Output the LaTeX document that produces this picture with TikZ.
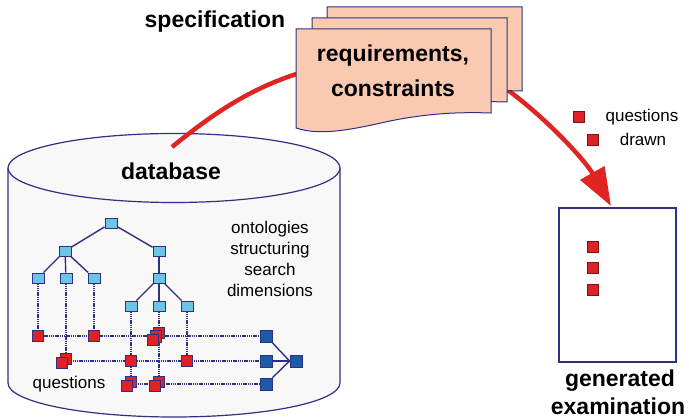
\documentclass[tikz,border=0pt]{standalone}
\usepackage{fontspec}
\setmainfont{Liberation Sans}
\usetikzlibrary{arrows.meta}
\pgfdeclarelayer{back}
\pgfdeclarelayer{mid}
\pgfsetlayers{back,mid,main}
\definecolor{navy}{HTML}{2E3182}
\definecolor{lblue}{HTML}{6CC5E4}
\definecolor{dblue}{HTML}{1B5BA8}
\definecolor{qred}{HTML}{DE2226}
\definecolor{qborder}{HTML}{7A1010}
\definecolor{docfill}{HTML}{F9C9B2}
\definecolor{cylfill}{HTML}{F8F8F8}
\definecolor{arrred}{HTML}{E02424}
\begin{document}
\begin{tikzpicture}[x=1pt,y=-1pt,
  onto/.style={draw=navy, fill=lblue, line width=0.9pt, minimum width=12pt, minimum height=10pt, inner sep=0pt},
  qbox/.style={draw=qborder, fill=qred, line width=0.8pt, minimum size=10.5pt, inner sep=0pt},
  dbq/.style={qbox, draw=navy, minimum size=11.5pt},
  dim/.style={draw=navy, fill=dblue, line width=0.9pt, minimum size=12pt, inner sep=0pt},
  treeline/.style={draw=navy, line width=1.4pt},
  dotline/.style={draw=navy, line width=2.2pt, dash pattern=on 1.4pt off 0.8pt},
  outline/.style={draw=navy, line width=1.2pt},
  docshape/.style={draw=navy, fill=docfill, line width=1pt},
  lbl/.style={font=\fontsize{17}{21}\selectfont, inner sep=0pt, align=center},
  head/.style={font=\bfseries\fontsize{23}{25}\selectfont, inner sep=0pt, align=center},
  redline/.style={draw=arrred, line width=4.5pt}
]
\useasboundingbox (0,0) rectangle (689,419);

% cylinder
\begin{pgfonlayer}{back}
\path[outline, fill=cylfill] (8,168) -- (8,383) arc[start angle=180, end angle=360, x radius=166, y radius=-34] -- (340,168);
\path[outline, fill=cylfill] (174,168) ellipse[x radius=166, y radius=34.5];
\end{pgfonlayer}

% tree nodes
\node[onto] (r) at (111,223) {};
\node[onto] (a1) at (65,251) {};
\node[onto] (a2) at (159,251) {};
\node[onto] (b1) at (38,278) {};
\node[onto] (b2) at (66,278) {};
\node[onto] (b3) at (94,278) {};
\node[onto] (b4) at (159,278) {};
\node[onto] (c1) at (131,306) {};
\node[onto] (c2) at (159,306) {};
\node[onto] (c3) at (187,306) {};

% question squares
\node[dbq] (q11) at (38,336) {};
\node[dbq] (q12) at (94,336) {};
\node[dbq] at (159,333) {};
\node[dbq] at (156,336.5) {};
\node[dbq] (q13) at (153,340) {};
\coordinate (s13) at (159,336);
\node[dbq] at (66,359) {};
\node[dbq] (q21) at (62,363) {};
\coordinate (s21) at (66,361);
\node[dbq] (q22) at (131,361) {};
\node[dbq] (q23) at (187,361) {};
\node[dbq] at (131,382) {};
\node[dbq] (q31) at (127,386) {};
\coordinate (s31) at (131,384);
\node[dbq] at (159,382) {};
\node[dbq] (q32) at (155,386) {};
\coordinate (s32) at (159,384);

% dimension squares
\node[dim] (d1) at (266,336) {};
\node[dim] (d2) at (266,361) {};
\node[dim] (d3) at (266,384) {};
\node[dim] (df) at (296,361) {};

\begin{pgfonlayer}{mid}
\draw[treeline] (r) -- (a1); \draw[treeline] (r) -- (a2);
\draw[treeline] (a1) -- (b1); \draw[treeline] (a1) -- (b2); \draw[treeline] (a1) -- (b3);
\draw[treeline] (a2) -- (b4);
\draw[treeline] (b4) -- (c1); \draw[treeline] (b4) -- (c2); \draw[treeline] (b4) -- (c3);
\draw[dotline] (b1) -- (q11);
\draw[dotline] (b2) -- (s21);
\draw[dotline] (b3) -- (q12);
\draw[dotline] (c1) -- (s31);
\draw[dotline] (c2) -- (s32);
\draw[dotline] (c3) -- (q23);
\draw[dotline] (q11) -- (d1);
\draw[dotline] (s21) -- (d2);
\draw[dotline] (s31) -- (d3);
\draw[treeline] (d1) -- (df.west); \draw[treeline] (d2) -- (df.west); \draw[treeline] (d3) -- (df.west);
\end{pgfonlayer}

% labels in database
\node[lbl] (onto) at (270,259) {ontologies\\structuring\\search\\dimensions};
\node[lbl] (qlbl) at (69,384) {questions};
\node[head] (db) at (171,171) {database};
\node[head] (spec) at (215,22) {specification};

% red connectors
\coordinate (dbtop) at (172,147);
\coordinate (docin) at (310,70);
\draw[redline] (dbtop) .. controls (215,112) and (255,85) .. (docin);
\coordinate (docout) at (505,88);
\coordinate (examtop) at (611,206);
\draw[redline, -{Triangle[length=38pt, width=27pt]}] (docout) .. controls (545,117) and (585,160) .. (examtop);

% documents
\path[docshape, shift={(31,-22)}] (296,29) -- (491,29) -- (491,113) .. controls (460,112) and (430,113) .. (390,121) .. controls (350,130) and (320,136) .. (296,128) -- cycle;
\path[docshape, shift={(16,-11)}] (296,29) -- (491,29) -- (491,113) .. controls (460,112) and (430,113) .. (390,121) .. controls (350,130) and (320,136) .. (296,128) -- cycle;
\path[docshape] (296,29) -- (491,29) -- (491,113) .. controls (460,112) and (430,113) .. (390,121) .. controls (350,130) and (320,136) .. (296,128) -- cycle;
\node[head] (req) at (393,56) {requirements,};
\node[head] (con) at (393,88) {constraints};

% exam
\node[draw=navy, line width=1.2pt, fill=white, minimum width=117pt, minimum height=154pt, inner sep=0pt] (exam) at (617.5,285) {};
\node[qbox] (e1) at (593,247) {};
\node[qbox] (e2) at (593,268) {};
\node[qbox] (e3) at (593,290) {};
\node[head] (gen) at (620,381) {generated};
\node[head] (exa) at (618,406) {examination};

% legend
\node[qbox] (l1) at (579,117) {};
\node[qbox] (l2) at (593,140) {};
\node[lbl] (lq) at (642,117) {questions};
\node[lbl] (ld) at (643,139) {drawn};
\end{tikzpicture}
\end{document}
